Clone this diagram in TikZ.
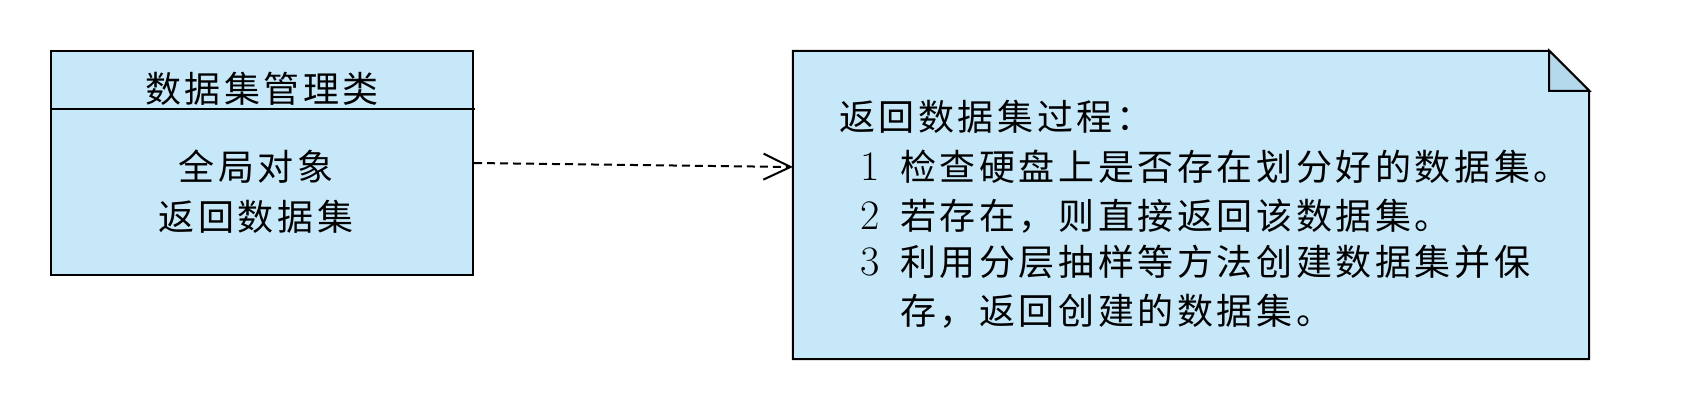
\documentclass[tikz,border=0pt]{standalone}
\usepackage{fontspec}
\newfontfamily\cjk[LetterSpace=10]{Noto Sans CJK SC}
\usetikzlibrary{arrows.meta}
\definecolor{boxfill}{HTML}{C6E8F8}
\definecolor{foldfill}{HTML}{B4D9EC}
\newcommand{\numlbl}[1]{\makebox[40pt][l]{\fontsize{42}{44}\selectfont\rmfamily #1}}
\begin{document}
\begin{tikzpicture}[x=1pt,y=-1pt,
  outline/.style={draw=black,line width=2pt},
  txt/.style={inner sep=0pt,font=\fontsize{36}{40}\selectfont\cjk},
  lefttxt/.style={txt,anchor=west},
  depend/.style={line width=2pt,dash pattern=on 8pt off 5pt,-{Straight Barb[length=27pt,width=26pt,line width=2pt]}}]
\useasboundingbox (0,0) rectangle (1708,412);
% class box
\node[outline,fill=boxfill,inner sep=0pt,minimum width=422pt,minimum height=224pt] (cls) at (262,163) {};
\coordinate (divl) at (51,109);
\coordinate (divr) at (475,109);
\draw[outline] (divl) -- (divr);
\node[txt] (title) at (262,89) {数据集管理类};
\node[txt] (b1) at (256,167) {全局对象};
\node[txt] (b2) at (256,217) {返回数据集};
% note
\node[inner sep=0pt,minimum width=796pt,minimum height=308pt] (note) at (1191,205) {};
\draw[outline,fill=boxfill,line join=miter] (note.north west) -- ([xshift=-40pt]note.north east) -- ([yshift=-40pt]note.north east) -- (note.south east) -- (note.south west) -- cycle;
\draw[outline,fill=foldfill,line join=miter] ([xshift=-40pt]note.north east) -- ([xshift=-40pt,yshift=-40pt]note.north east) -- ([yshift=-40pt]note.north east) -- cycle;
\node[lefttxt] (n0) at (839,117) {返回数据集过程：};
\node[lefttxt] (n1) at (860,167) {\numlbl{1}检查硬盘上是否存在划分好的数据集。};
\node[lefttxt] (n2) at (860,216) {\numlbl{2}若存在，则直接返回该数据集。};
\node[lefttxt] (n3) at (860,262) {\numlbl{3}利用分层抽样等方法创建数据集并保};
\node[lefttxt] (n4) at (900,311) {存，返回创建的数据集。};
% dependency arrow
\draw[depend] (cls.east) -- ([yshift=38pt]note.west);
\end{tikzpicture}
\end{document}
